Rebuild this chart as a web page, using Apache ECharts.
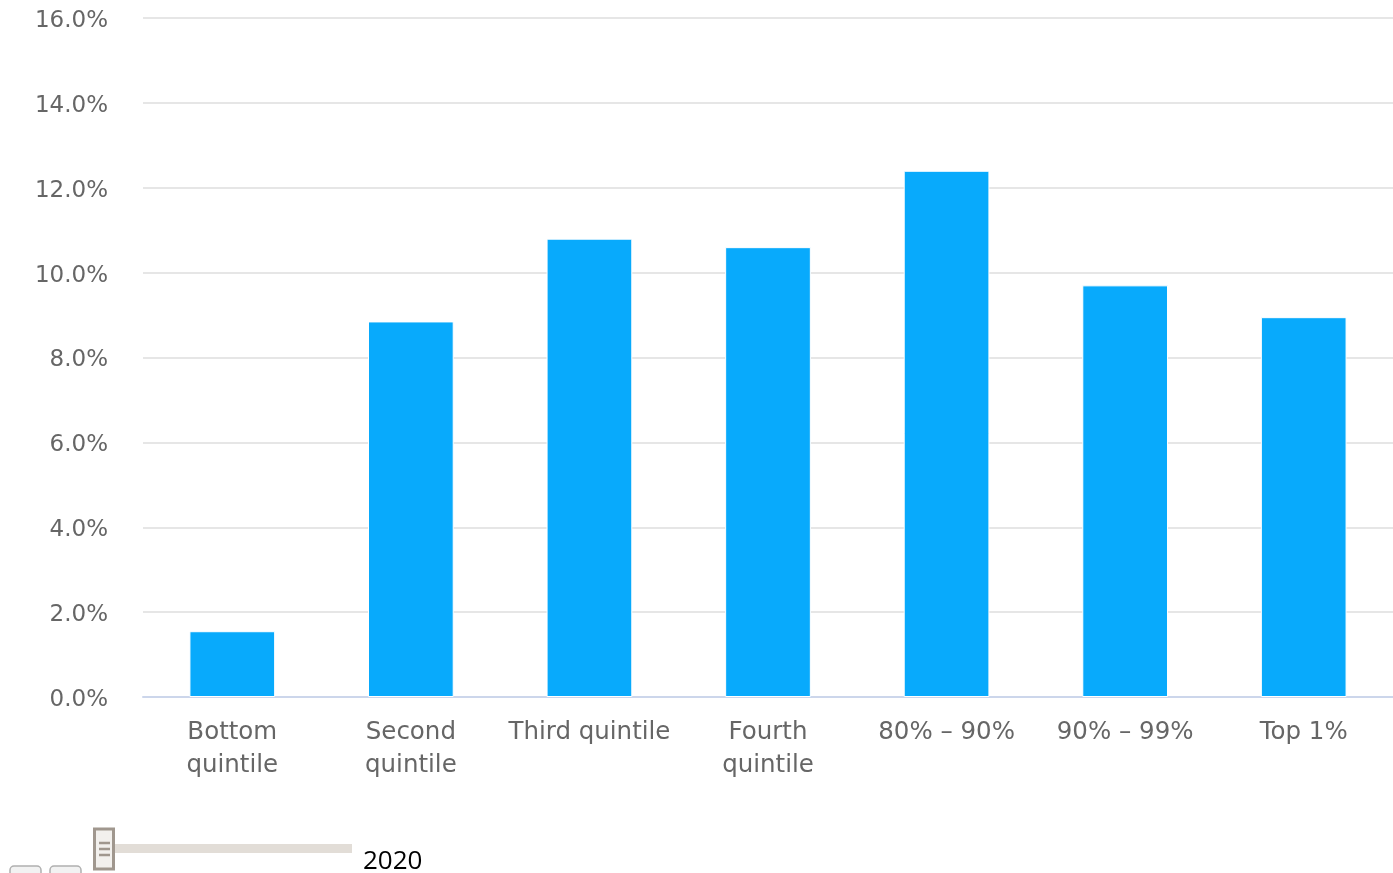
<!DOCTYPE html>
<html>
<head>
<meta charset="utf-8">
<script src="https://cdn.jsdelivr.net/npm/echarts@6/dist/echarts.min.js"></script>
<style>
  html, body { margin: 0; padding: 0; background: #fff; }
  #chart { width: 1393px; height: 873px; }
</style>
</head>
<body>
<div id="chart"></div>
<script>
// Income groups and their share values (percent)
const categories = ['Bottom\nquintile', 'Second\nquintile', 'Third quintile', 'Fourth\nquintile', '80% – 90%', '90% – 99%', 'Top 1%'];
const shares = [1.55, 8.85, 10.8, 10.6, 12.4, 9.7, 8.95];
const years = ['2020'];

const chart = echarts.init(document.getElementById('chart'));

const labelFont = 'DejaVu Sans';

chart.setOption({
  animation: false,
  grid: { left: 143, right: 0, top: 18, bottom: 176 },
  xAxis: {
    type: 'category',
    data: categories,
    axisLine: { lineStyle: { color: '#ccd6eb', width: 2 } },
    axisTick: { show: false },
    axisLabel: {
      color: '#666666',
      fontFamily: labelFont,
      fontSize: 24.5,
      lineHeight: 33,
      margin: 19,
      interval: 0
    }
  },
  yAxis: {
    type: 'value',
    min: 0,
    max: 16,
    interval: 2,
    axisLine: { show: false },
    axisTick: { show: false },
    splitLine: { lineStyle: { color: '#e6e6e6', width: 2 } },
    axisLabel: {
      color: '#666666',
      fontFamily: labelFont,
      fontSize: 23,
      margin: 35,
      verticalAlign: 'top',
      lineHeight: 6,
      formatter: v => v.toFixed(1) + '%'
    }
  },
  series: [{
    type: 'bar',
    data: shares,
    barWidth: '48%',
    itemStyle: { color: '#08aafc', borderColor: '#ffffff', borderWidth: 1 }
  }],
  graphic: [
    // play / step buttons
    { type: 'rect', shape: { x: 10, y: 866, width: 31, height: 20, r: 4 },
      style: { fill: '#f2f2f2', stroke: '#b0b0b0', lineWidth: 1.5 } },
    { type: 'rect', shape: { x: 50, y: 866, width: 31, height: 20, r: 4 },
      style: { fill: '#f2f2f2', stroke: '#b0b0b0', lineWidth: 1.5 } },
    // slider track
    { type: 'rect', shape: { x: 113, y: 844, width: 239, height: 9 },
      style: { fill: '#e2ddd7' } },
    // slider handle
    { type: 'rect', shape: { x: 94.5, y: 829, width: 19, height: 40 },
      style: { fill: '#f2f0ed', stroke: '#a0978e', lineWidth: 3 } },
    { type: 'line', shape: { x1: 99, y1: 843, x2: 110, y2: 843 }, style: { stroke: '#a0978e', lineWidth: 2.5 } },
    { type: 'line', shape: { x1: 99, y1: 849, x2: 110, y2: 849 }, style: { stroke: '#a0978e', lineWidth: 2.5 } },
    { type: 'line', shape: { x1: 99, y1: 855, x2: 110, y2: 855 }, style: { stroke: '#a0978e', lineWidth: 2.5 } },
    // current year label
    { type: 'text', left: 363, top: 849,
      style: { text: years[0], fill: '#000000', font: '26px "Open Sans"' } }
  ]
});
</script>
</body>
</html>
